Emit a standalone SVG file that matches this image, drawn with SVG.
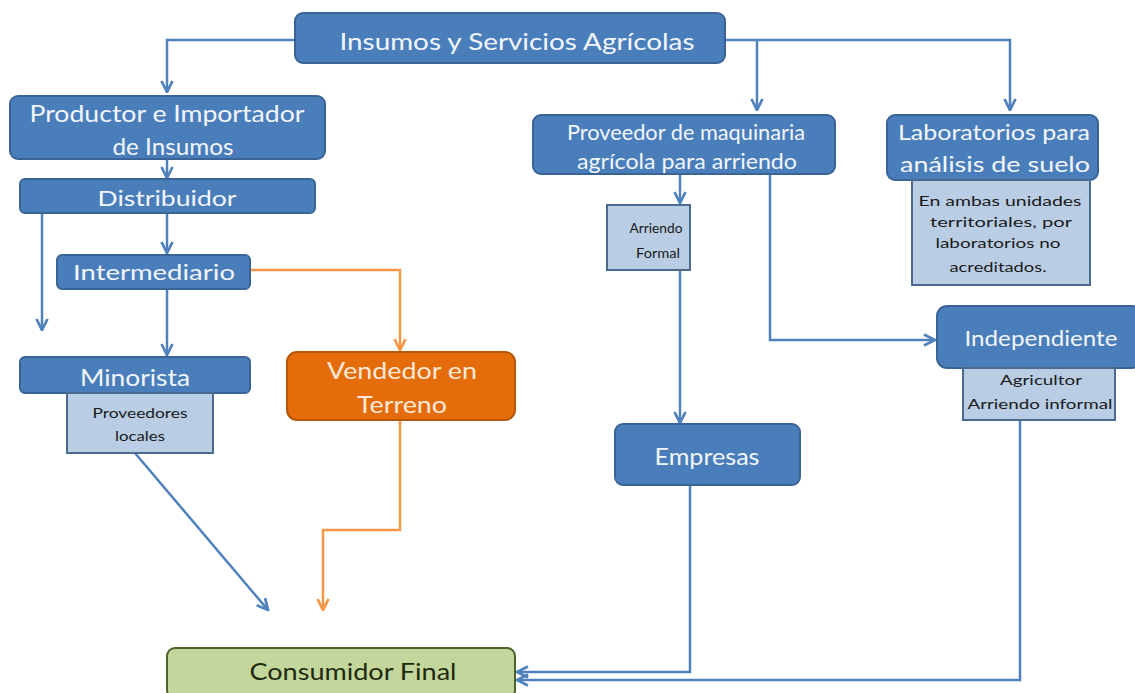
<svg xmlns="http://www.w3.org/2000/svg" width="1135" height="693" viewBox="0 0 1135 693">
<style>
.n{fill:#4a7ebb;stroke:#3a6495;stroke-width:2}
.s{fill:#b9cde5;stroke:#4a6a8e;stroke-width:2}
.o{fill:#e46c0a;stroke:#b65708;stroke-width:2}
.g{fill:#c3d69b;stroke:#4f6228;stroke-width:2}
text{font-family:Lato,"Open Sans","Liberation Sans",sans-serif;text-anchor:middle;dominant-baseline:central}
.t{fill:#f2f6fb}
.tw{fill:#fde9d9}
.tg{fill:#1f2a10}
.ts{fill:#1a1a1a;font-size:14px}
.b{fill:none;stroke:#4f81bd;stroke-width:2.5}
.or{fill:none;stroke:#f79646;stroke-width:2.5}
</style>
<defs>
<marker id="ab" viewBox="0 0 10 10" refX="9" refY="5" markerWidth="5.5" markerHeight="5.5" orient="auto" markerUnits="strokeWidth"><path d="M1,1 L9,5 L1,9" fill="none" stroke="#4f81bd" stroke-width="2"/></marker>
<marker id="ao" viewBox="0 0 10 10" refX="9" refY="5" markerWidth="5.5" markerHeight="5.5" orient="auto" markerUnits="strokeWidth"><path d="M1,1 L9,5 L1,9" fill="none" stroke="#f79646" stroke-width="2"/></marker>
</defs>
<g id="connectors">
<path class="b" d="M295,40 H167 V92" marker-end="url(#ab)"/>
<path class="b" d="M725,40 H1010 V110" marker-end="url(#ab)"/>
<path class="b" d="M757,40 V110" marker-end="url(#ab)"/>
<path class="b" d="M167,160 V178" marker-end="url(#ab)"/>
<path class="b" d="M42,213 V330" marker-end="url(#ab)"/>
<path class="b" d="M167,213 V253" marker-end="url(#ab)"/>
<path class="b" d="M167,290 V355" marker-end="url(#ab)"/>
<path class="or" d="M250,270 H400 V350" marker-end="url(#ao)"/>
<path class="or" d="M400,420 V530 H323 V610" marker-end="url(#ao)"/>
<path class="b" d="M135,453 L268,610" marker-end="url(#ab)"/>
<path class="b" d="M680,174 V203" marker-end="url(#ab)"/>
<path class="b" d="M680,270 V423" marker-end="url(#ab)"/>
<path class="b" d="M770,174 V340 H935" marker-end="url(#ab)"/>
<path class="b" d="M690,485 V672 H517" marker-end="url(#ab)"/>
<path class="b" d="M1020,420 V680 H517" marker-end="url(#ab)"/>
</g>
<g id="insumos"><rect class="n" x="295" y="13" width="430" height="50" rx="8"/><text class="t" x="517" y="40" font-size="24" textLength="355" lengthAdjust="spacingAndGlyphs">Insumos y Servicios Agrícolas</text></g>
<g id="productor"><rect class="n" x="10" y="96" width="315" height="63" rx="8"/><text class="t" x="167" y="112" font-size="24" textLength="275" lengthAdjust="spacingAndGlyphs">Productor e Importador</text><text class="t" x="173" y="145" font-size="24" textLength="121" lengthAdjust="spacingAndGlyphs">de Insumos</text></g>
<g id="distribuidor"><rect class="n" x="20" y="179" width="295" height="34" rx="5"/><text class="t" x="167" y="197" font-size="22" textLength="139" lengthAdjust="spacingAndGlyphs">Distribuidor</text></g>
<g id="intermediario"><rect class="n" x="57" y="255" width="193" height="34" rx="5"/><text class="t" x="154" y="271" font-size="22" textLength="162" lengthAdjust="spacingAndGlyphs">Intermediario</text></g>
<g id="minorista"><rect class="n" x="20" y="357" width="230" height="36" rx="5"/><text class="t" x="135" y="377" font-size="23" textLength="110" lengthAdjust="spacingAndGlyphs">Minorista</text></g>
<g id="proveedores-locales"><rect class="s" x="67" y="393" width="146" height="60"/><text class="ts" x="140" y="412" textLength="95" lengthAdjust="spacingAndGlyphs">Proveedores</text><text class="ts" x="140" y="435" textLength="50" lengthAdjust="spacingAndGlyphs">locales</text></g>
<g id="vendedor"><rect class="o" x="287" y="352" width="228" height="68" rx="10"/><text class="tw" x="402" y="370" font-size="23" textLength="150" lengthAdjust="spacingAndGlyphs">Vendedor en</text><text class="tw" x="402" y="404" font-size="23" textLength="90" lengthAdjust="spacingAndGlyphs">Terreno</text></g>
<g id="consumidor"><rect class="g" x="167" y="648" width="348" height="50" rx="8"/><text class="tg" x="353" y="671" font-size="23" textLength="207" lengthAdjust="spacingAndGlyphs">Consumidor Final</text></g>
<g id="proveedor-maquinaria"><rect class="n" x="533" y="115" width="302" height="59" rx="8"/><text class="t" x="686" y="131" font-size="22" textLength="238" lengthAdjust="spacingAndGlyphs">Proveedor de maquinaria</text><text class="t" x="687" y="160" font-size="22" textLength="220" lengthAdjust="spacingAndGlyphs">agrícola para arriendo</text></g>
<g id="arriendo-formal"><rect class="s" x="607" y="205" width="83" height="65"/><text class="ts" x="656" y="227" textLength="53" lengthAdjust="spacingAndGlyphs">Arriendo</text><text class="ts" x="658" y="252" textLength="44" lengthAdjust="spacingAndGlyphs">Formal</text></g>
<g id="laboratorios"><rect class="n" x="887" y="115" width="211" height="65" rx="8"/><text class="t" x="994" y="131" font-size="22" textLength="192" lengthAdjust="spacingAndGlyphs">Laboratorios para</text><text class="t" x="995" y="163" font-size="22" textLength="190" lengthAdjust="spacingAndGlyphs">análisis de suelo</text></g>
<g id="laboratorios-nota"><rect class="s" x="912" y="180" width="178" height="105"/><text class="ts" x="1000" y="200" textLength="163" lengthAdjust="spacingAndGlyphs">En ambas unidades</text><text class="ts" x="1001" y="221" textLength="142" lengthAdjust="spacingAndGlyphs">territoriales, por</text><text class="ts" x="998" y="242" textLength="125" lengthAdjust="spacingAndGlyphs">laboratorios no</text><text class="ts" x="998" y="266" textLength="97" lengthAdjust="spacingAndGlyphs">acreditados.</text></g>
<g id="empresas"><rect class="n" x="615" y="424" width="185" height="61" rx="8"/><text class="t" x="707" y="456" font-size="23" textLength="105" lengthAdjust="spacingAndGlyphs">Empresas</text></g>
<g id="independiente"><rect class="n" x="937" y="306" width="205" height="62" rx="10"/><text class="t" x="1041" y="337" font-size="22" textLength="153" lengthAdjust="spacingAndGlyphs">Independiente</text></g>
<g id="agricultor"><rect class="s" x="963" y="368" width="152" height="52"/><text class="ts" x="1041" y="379" textLength="82" lengthAdjust="spacingAndGlyphs">Agricultor</text><text class="ts" x="1040" y="403" textLength="145" lengthAdjust="spacingAndGlyphs">Arriendo informal</text></g>
</svg>
